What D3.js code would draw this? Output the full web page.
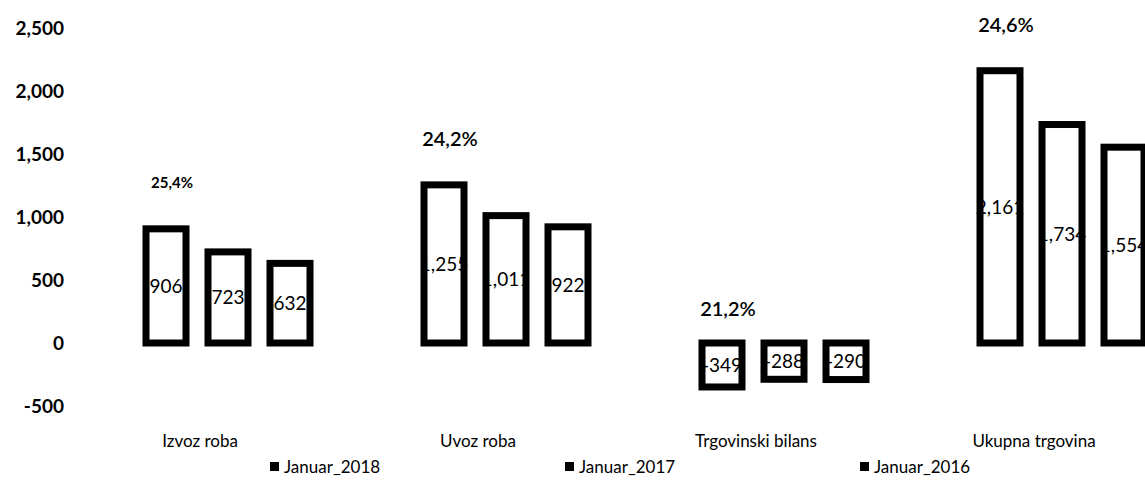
<!DOCTYPE html>
<html>
<head>
<meta charset="utf-8">
<script src="https://cdn.jsdelivr.net/npm/d3@7"></script>
<style>
  html, body { margin: 0; padding: 0; background: #fff; }
  svg { display: block; }
  text { font-family: Lato, "Open Sans", sans-serif; fill: #000; }
</style>
</head>
<body>
<svg id="chart" width="1145" height="484"></svg>
<script>
// ---- data ----
const categories = ["Izvoz roba", "Uvoz roba", "Trgovinski bilans", "Ukupna trgovina"];
const seriesNames = ["Januar_2018", "Januar_2017", "Januar_2016"];
const jan2018 = [906, 1255, -349, 2161];
const jan2017 = [723, 1011, -288, 1734];
const jan2016 = [632, 922, -290, 1554];
const growthLabels = ["25,4%", "24,2%", "21,2%", "24,6%"];
const yTicks = [-500, 0, 500, 1000, 1500, 2000, 2500];

const seriesValues = [jan2018, jan2017, jan2016];
const rows = [];
categories.forEach((c, ci) => {
  seriesNames.forEach((s, si) => rows.push({ cat: c, series: s, value: seriesValues[si][ci] }));
});

// ---- layout ----
const svg = d3.select("#chart");
const y = d3.scaleLinear().domain([-500, 2500]).range([406, 28]);
const x0 = d3.scaleBand().domain(categories).range([89, 89 + 4 * 278]).padding(0);
const bw = x0.bandwidth();
const x1 = d3.scaleBand().domain(seriesNames)
  .range([bw / 2 - 85.5, bw / 2 + 85.5]).paddingInner(15 / 62).paddingOuter(0);
const sw = 7;
const fmt = d => d3.format(",")(d).replace("\u2212", "-");

// y axis (labels only)
const yAxis = svg.append("g").attr("transform", "translate(66,0)")
  .call(d3.axisLeft(y).tickValues(yTicks).tickFormat(fmt).tickSize(0).tickPadding(2));
yAxis.select(".domain").remove();
yAxis.selectAll("text")
  .style("font-family", "Lato, sans-serif")
  .style("font-size", "19px")
  .style("font-weight", "bold")
  .attr("fill", "#000");

// bars
const groups = svg.append("g").selectAll("g").data(rows).join("g")
  .attr("transform", d => `translate(${x0(d.cat) + x1(d.series)},0)`);

groups.append("rect")
  .attr("x", sw / 2)
  .attr("width", x1.bandwidth() - sw)
  .attr("y", d => Math.min(y(d.value), y(0)))
  .attr("height", d => Math.abs(y(d.value) - y(0)))
  .attr("fill", "#fff")
  .attr("stroke", "#000")
  .attr("stroke-width", sw);

groups.append("text")
  .attr("x", x1.bandwidth() / 2)
  .attr("y", d => (y(d.value) + y(0)) / 2)
  .attr("dy", "0.36em")
  .attr("text-anchor", "middle")
  .style("font-size", "19px")
  .text(d => fmt(d.value));

// growth percentage labels
svg.append("g").selectAll("text").data(categories).join("text")
  .attr("x", c => x0(c) + x1(seriesNames[0]) + x1.bandwidth() / 2 + 6)
  .attr("y", (c, i) => y(Math.max(jan2018[i], 0)) - (jan2018[i] < 0 ? 34 : 46))
  .attr("dy", "0.36em")
  .attr("text-anchor", "middle")
  .style("font-size", (c, i) => i === 0 ? "15px" : "20px")
  .style("font-weight", (c, i) => i === 0 ? "bold" : "600")
  .text((c, i) => growthLabels[i]);

// category labels
svg.append("g").selectAll("text").data(categories).join("text")
  .attr("x", c => x0(c) + bw / 2 - 28)
  .attr("y", 441)
  .attr("dy", "0.36em")
  .attr("text-anchor", "middle")
  .style("font-size", "17px")
  .text(c => c);

// legend
const lx = d3.scalePoint().domain(seriesNames).range([270, 860]);
const leg = svg.append("g").selectAll("g").data(seriesNames).join("g")
  .attr("transform", s => `translate(${lx(s)},467)`);
leg.append("rect").attr("x", 0).attr("y", -5).attr("width", 9).attr("height", 9).attr("fill", "#000");
leg.append("text").attr("x", 14).attr("dy", "0.36em").style("font-size", "17px").text(s => s);
</script>
</body>
</html>
